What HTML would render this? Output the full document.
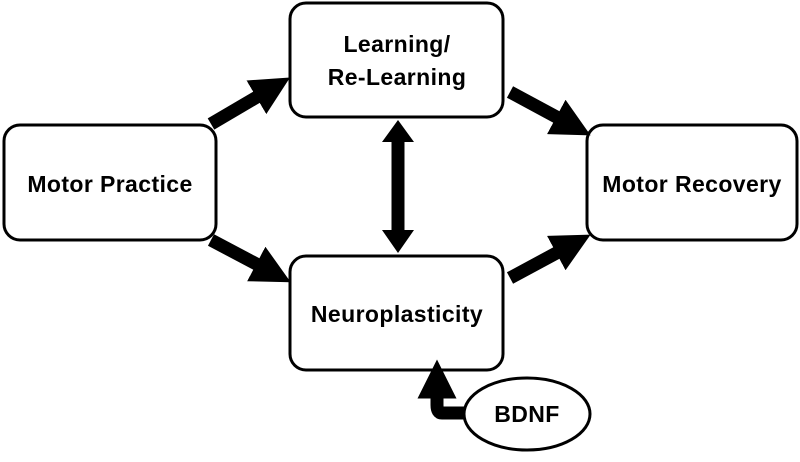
<!DOCTYPE html>
<html><head><style>
body{margin:0;background:#fff;}
svg text{font-family:"Liberation Sans",Arial,sans-serif;font-weight:bold;font-size:23px;letter-spacing:0.4px;fill:#000;text-anchor:middle;}
</style></head><body>
<svg width="800" height="457" viewBox="0 0 800 457" xmlns="http://www.w3.org/2000/svg">
<defs>
<marker id="ah" markerWidth="3" markerHeight="3" refX="0.5" refY="1.5" orient="auto" markerUnits="strokeWidth">
<path d="M0,0 L3,1.5 L0,3 Z" fill="#000"/>
</marker>
</defs>
<g fill="none" stroke="#000" stroke-width="3">
<rect x="290" y="3" width="213" height="114" rx="16"/>
<rect x="4" y="125" width="212" height="115" rx="16"/>
<rect x="587" y="125" width="210" height="115" rx="16"/>
<rect x="290" y="256" width="213" height="114" rx="16"/>
<ellipse cx="527" cy="414" rx="63" ry="36"/>
</g>
<g stroke="#000" stroke-width="13" fill="none">
<line x1="211" y1="124" x2="262" y2="94" marker-end="url(#ah)"/>
<line x1="510" y1="92" x2="562" y2="120" marker-end="url(#ah)"/>
<line x1="211" y1="240" x2="262" y2="267" marker-end="url(#ah)"/>
<line x1="510" y1="278" x2="562" y2="250" marker-end="url(#ah)"/>
<line x1="398" y1="142" x2="398" y2="232"/>
<path d="M464 413 H442 Q437 413 437 405 V392" marker-end="url(#ah)"/>
</g>
<path d="M398 120 L382 142 L414 142 Z M398 253 L382 230 L414 230 Z" fill="#000"/>
<text x="397" y="52">Learning/</text>
<text x="397" y="85">Re-Learning</text>
<text x="110" y="192">Motor Practice</text>
<text x="692" y="192">Motor Recovery</text>
<text x="397" y="322">Neuroplasticity</text>
<text x="527" y="422">BDNF</text>
</svg>
</body></html>
